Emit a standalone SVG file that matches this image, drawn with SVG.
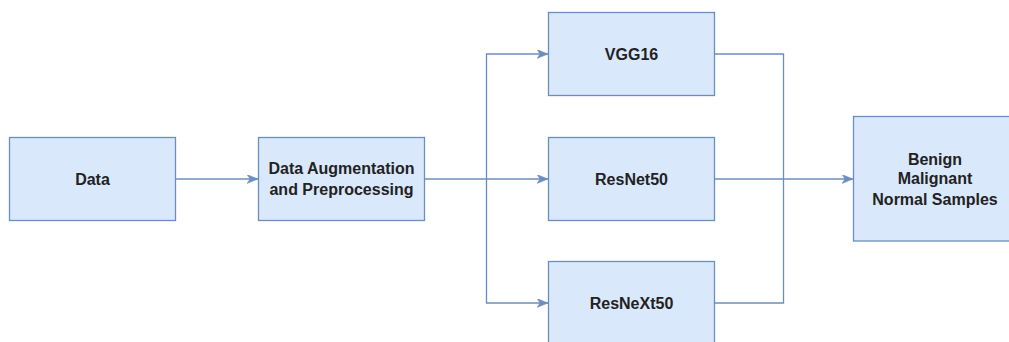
<svg xmlns="http://www.w3.org/2000/svg" width="1009" height="342" viewBox="0 0 1009 342">
<style>
.box{fill:#dae8fc;stroke:#6c8ebf;stroke-width:1.3}
.lbl{font-family:"Liberation Sans",Arial,sans-serif;font-weight:bold;font-size:16px;fill:#222;text-anchor:middle}
.edge{fill:none;stroke:#6c8ebf;stroke-width:1.3}
</style>
<defs>
<marker id="arr" markerUnits="userSpaceOnUse" markerWidth="12" markerHeight="10" refX="11" refY="4.5" orient="auto">
<path d="M0,0 L11,4.5 L0,9 L3,4.5 Z" fill="#6c8ebf" stroke="#6c8ebf" stroke-width="0.5"/>
</marker>
</defs>
<rect width="1009" height="342" fill="#ffffff"/>
<g id="connectors">
<path class="edge" d="M175.5,179 L258,179" marker-end="url(#arr)"/>
<path class="edge" d="M424.5,179 L548,179" marker-end="url(#arr)"/>
<path class="edge" d="M486.5,179 L486.5,54 L548,54" marker-end="url(#arr)"/>
<path class="edge" d="M486.5,179 L486.5,303 L548,303" marker-end="url(#arr)"/>
<path class="edge" d="M714.5,54 L783.5,54 L783.5,303 L714.5,303"/>
<path class="edge" d="M714.5,179 L853,179" marker-end="url(#arr)"/>
</g>
<g id="data">
<rect class="box" x="9.5" y="137.5" width="166" height="83"/>
<text class="lbl" x="92.5" y="185">Data</text>
</g>
<g id="augmentation">
<rect class="box" x="258.5" y="137.5" width="166" height="83"/>
<text class="lbl" x="341.5" y="174">Data Augmentation</text>
<text class="lbl" x="341.5" y="195">and Preprocessing</text>
</g>
<g id="vgg16">
<rect class="box" x="548.5" y="12.5" width="166" height="83"/>
<text class="lbl" x="631.5" y="60">VGG16</text>
</g>
<g id="resnet50">
<rect class="box" x="548.5" y="137.5" width="166" height="83"/>
<text class="lbl" x="631.5" y="185">ResNet50</text>
</g>
<g id="resnext50">
<rect class="box" x="548.5" y="261.5" width="166" height="83"/>
<text class="lbl" x="631.5" y="309">ResNeXt50</text>
</g>
<g id="output">
<rect class="box" x="853.5" y="116.5" width="163" height="124.5"/>
<text class="lbl" x="935" y="165">Benign</text>
<text class="lbl" x="935" y="184">Malignant</text>
<text class="lbl" x="935" y="205">Normal Samples</text>
</g>
</svg>
